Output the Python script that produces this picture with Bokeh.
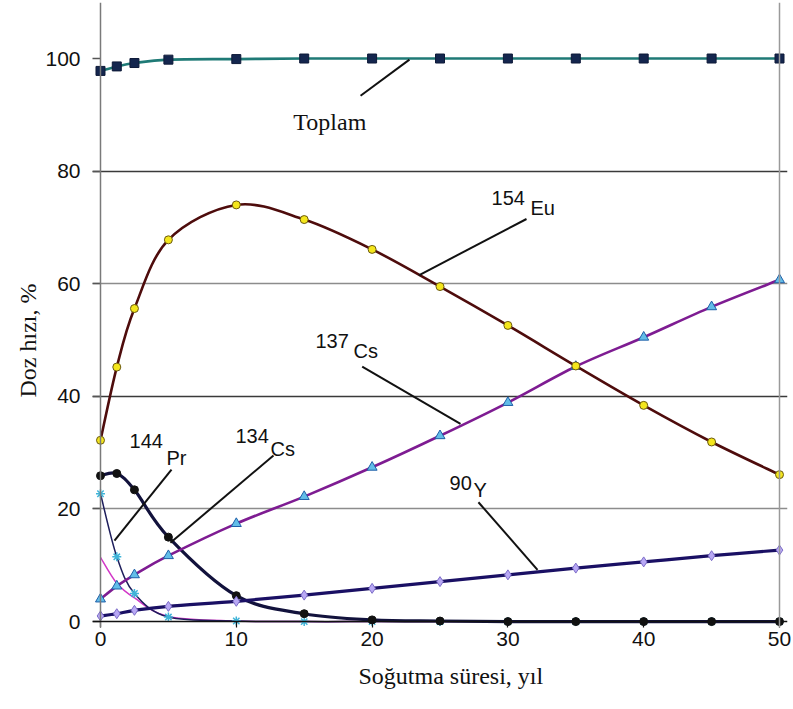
from bokeh.plotting import figure
from bokeh.models import Label, Span, Grid, FixedTicker, ColumnDataSource, Title
from bokeh.embed import file_html
from bokeh.resources import INLINE

# ---------------- data ----------------
years = [0, 1.2, 2.5, 5, 10, 15, 20, 25, 30, 35, 40, 45, 50]
toplam = [97.8, 98.6, 99.2, 99.8, 99.9, 100, 100, 100, 100, 100, 100, 100, 100]
eu154 = [32.2, 45.2, 55.6, 67.8, 74.0, 71.4, 66.1, 59.5, 52.6, 45.4, 38.4, 31.9, 26.1]
cs137 = [4.0, 6.3, 8.3, 11.7, 17.4, 22.2, 27.4, 33.0, 38.9, 45.3, 50.5, 55.9, 60.7]
y90 = [1.0, 1.4, 2.0, 2.7, 3.6, 4.7, 5.9, 7.1, 8.3, 9.5, 10.6, 11.7, 12.7]
pr144 = [25.9, 26.3, 23.4, 15.0, 4.6, 1.4, 0.3, 0.1, 0, 0, 0, 0, 0]
cs134 = [22.7, 11.5, 5.0, 0.8, 0.1, 0, 0, 0, 0, 0, 0, 0, 0]
diger = [11.4, 6.8, 4.2, 0.9, 0.1, 0, 0, 0, 0, 0, 0, 0, 0]

x_ticks = [0, 10, 20, 30, 40, 50]
y_ticks = [0, 20, 40, 60, 80, 100]

SANS = "Liberation Sans"
SERIF = "Liberation Serif"

p = figure(width=793, height=709, output_backend="svg", toolbar_location=None,
           x_range=(-0.589, 50.589), y_range=(-1.05, 109.95),
           min_border_left=92, min_border_right=6, min_border_top=2, min_border_bottom=82)
p.outline_line_color = None
p.background_fill_color = "white"
p.border_fill_color = "white"
p.xgrid.visible = False
p.ygrid.visible = False

# axes (at frame edges; axis lines drawn as spans at 0)
p.xaxis.ticker = FixedTicker(ticks=x_ticks)
p.yaxis.ticker = FixedTicker(ticks=y_ticks)
for ax in (p.xaxis[0], p.yaxis[0]):
    ax.major_label_text_font = SANS
    ax.major_label_text_font_size = "21px"
    ax.major_label_text_color = "#111111"
    ax.minor_tick_line_color = None
    ax.axis_line_color = None
    ax.major_tick_out = 0
p.yaxis.major_tick_line_color = "#555555"
p.yaxis.major_tick_line_width = 1.5
p.yaxis.major_tick_in = 8
p.yaxis.major_label_standoff = 12
p.xaxis.major_tick_line_color = "#111111"
p.xaxis.major_tick_line_width = 1.2
p.xaxis.major_tick_in = 6
p.xaxis.major_label_standoff = 4

p.add_layout(Title(text="Soğutma süresi, yıl", align="left", offset=266, text_font=SERIF,
                   text_font_size="24px", text_font_style="normal", text_color="#111111",
                   standoff=25), "below")
p.add_layout(Title(text="Doz hızı, %", align="left", offset=230, text_font=SERIF,
                   text_font_size="24px", text_font_style="normal", text_color="#111111",
                   standoff=4), "left")

p.add_layout(Span(location=0, dimension="height", line_color="#7a7a7a", line_width=1.5))
p.add_layout(Span(location=0, dimension="width", line_color="#111111", line_width=1.5))

# grids
p.add_layout(Grid(dimension=1, ticker=FixedTicker(ticks=[40, 80]),
                  grid_line_color="#3a3a3a", grid_line_width=1.5))
p.add_layout(Grid(dimension=1, ticker=FixedTicker(ticks=[20, 60]),
                  grid_line_color="#8c8c8c", grid_line_width=1.5))
p.add_layout(Span(location=50, dimension="height", line_color="#9a9a9a", line_width=1.5))


def smooth(xs, ys):
    n = len(xs)
    d = dict(x0=[], y0=[], x1=[], y1=[], cx0=[], cy0=[], cx1=[], cy1=[])
    for i in range(n - 1):
        xa, ya = xs[max(i - 1, 0)], ys[max(i - 1, 0)]
        x1, y1 = xs[i], ys[i]
        x2, y2 = xs[i + 1], ys[i + 1]
        xb, yb = xs[min(i + 2, n - 1)], ys[min(i + 2, n - 1)]
        d["x0"].append(x1); d["y0"].append(y1)
        d["x1"].append(x2); d["y1"].append(y2)
        d["cx0"].append(x1 + (x2 - xa) / 6.0); d["cy0"].append(y1 + (y2 - ya) / 6.0)
        d["cx1"].append(x2 - (xb - x1) / 6.0); d["cy1"].append(y2 - (yb - y1) / 6.0)
    return ColumnDataSource(d)


def series(ys, line_color, line_width, marker=None, size=8, fill=None, mline=None, mwidth=1):
    p.bezier(x0="x0", y0="y0", x1="x1", y1="y1", cx0="cx0", cy0="cy0", cx1="cx1", cy1="cy1",
             source=smooth(years, ys), line_color=line_color, line_width=line_width)
    if marker:
        p.scatter(years, ys, marker=marker, size=size, fill_color=fill,
                  line_color=mline, line_width=mwidth)


series(diger, "#d238c8", 1.5)
series(cs134, "#1e1e5c", 1.5, "asterisk", 9, None, "#3fb4d8", 1.5)
series(pr144, "#12123c", 3.2, "circle", 8, "#111111", "#111111")
series(y90, "#1a1064", 3.2, "diamond", 10, "#b8a8f4", "#7c6cc8")
series(cs137, "#7e1c92", 2.6, "triangle", 10, "#62bde8", "#1f5fa8")
series(eu154, "#4e0c0c", 2.6, "circle", 8, "#f4e61c", "#6b5a10")
series(toplam, "#1f7a76", 2.6, "square", 9, "#14264e", "#0e1a38")

# leader lines (data units)
lead_x0 = [19.15, 31.37, 19.27, 27.83, 5.23, 12.74]
lead_y0 = [93.4, 71.5, 45.3, 21.2, 27.0, 29.5]
lead_x1 = [22.75, 23.44, 26.51, 32.18, 1.03, 5.15]
lead_y1 = [99.8, 61.5, 35.1, 9.2, 14.4, 14.0]
p.segment(lead_x0, lead_y0, lead_x1, lead_y1, line_color="#111111", line_width=2)

def lab(x, y, t, font=SANS, size="20px"):
    p.add_layout(Label(x=x, y=y, text=t, text_font=font, text_font_size=size,
                       text_baseline="middle", text_align="left", text_color="#111111"))

lab(14.2, 88.7, "Toplam", SERIF, "24px")
lab(28.8, 75.3, "154"); lab(31.66, 73.5, "Eu")
lab(15.83, 49.9, "137"); lab(18.63, 48.1, "Cs")
lab(25.7, 24.7, "90"); lab(27.47, 23.3, "Y")
lab(2.14, 32.1, "144"); lab(4.86, 29.1, "Pr")
lab(9.94, 32.9, "134"); lab(12.52, 30.7, "Cs")

open("out.html", "w").write(file_html(p, INLINE))
